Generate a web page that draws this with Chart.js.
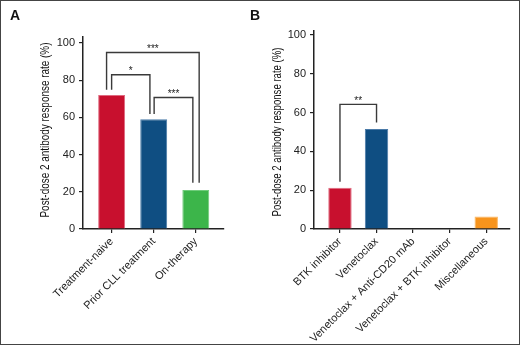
<!DOCTYPE html>
<html>
<head>
<meta charset="utf-8">
<script src="https://cdn.jsdelivr.net/npm/chart.js@4"></script>
<style>
  html, body { margin: 0; padding: 0; background: #fff; }
  #wrap { position: relative; width: 520px; height: 345px; overflow: hidden; }
  canvas { position: absolute; top: 0; }
  #frame { position: absolute; left: 0; top: 0; width: 518px; height: 343px; border: 1px solid #444; pointer-events: none; }
  .panel { position: absolute; top: 8px; font: bold 14px 'Liberation Sans', Arial, sans-serif; line-height: 14px; color: #111; }
</style>
</head>
<body>
<div id="wrap">
  <canvas id="chartA" width="260" height="345" style="left:0"></canvas>
  <canvas id="chartB" width="260" height="345" style="left:260px"></canvas>
  <div class="panel" style="left:10px">A</div>
  <div class="panel" style="left:250px">B</div>
  <div id="frame"></div>
</div>
<script>
// Data
const yTicks = [0, 20, 40, 60, 80, 100];
const yTitle = 'Post-dose 2 antibody response rate (%)';

const catsA = ['Treatment-naive', 'Prior CLL treatment', 'On-therapy'];
const ratesA = [72, 59, 21];
const colorsA = ['#c8102e', '#0f4e82', '#3cb54a'];
const edgesA = ['#e06a80', '#4a7aa8', '#6fcc7a'];
const bracketsA = [
    { x1: -0.12, x2: 2.08, top: 94.9, y1: 74.9, y2: 24.9, label: '***' },
    { x1: 0, x2: 0.91, top: 82.9, y1: 74.9, y2: 61.8, label: '*' },
    { x1: 1.01, x2: 1.93, top: 70.7, y1: 61.8, y2: 24.9, label: '***' }
];

const catsB = ['BTK inhibitor', 'Venetoclax', 'Venetoclax + Anti-CD20 mAb', 'Venetoclax + BTK inhibitor', 'Miscellaneous'];
const ratesB = [21.3, 51.5, 0, 0, 6.5];
const colorsB = ['#c8102e', '#0f4e82', '#3cb54a', '#3cb54a', '#f7941d'];
const edgesB = ['#e06a80', '#4a7aa8', '#6fcc7a', '#6fcc7a', '#fbb660'];
const bracketsB = [
    { x1: 0, x2: 1, top: 64.2, y1: 24.3, y2: 54.9, label: '**' }
];

const AXIS = '#222';
const SANS = "'Liberation Sans', Arial, sans-serif";

// Stars above the brackets
function starPlugin(brackets) {
    return {
        id: 'stars',
        afterDatasetsDraw(chart) {
            const { ctx, scales: { x, y } } = chart;
            ctx.save();
            ctx.font = '10px ' + SANS;
            ctx.fillStyle = AXIS;
            ctx.textAlign = 'center';
            ctx.textBaseline = 'alphabetic';
            brackets.forEach(b => {
                ctx.fillText(b.label, x.getPixelForValue((b.x1 + b.x2) / 2), y.getPixelForValue(b.top) - 0.5);
            });
            ctx.restore();
        }
    };
}

// Condensed y-axis title (no narrow font installed, so squeeze it)
function titlePlugin(cfg) {
    return {
        id: 'ytitle',
        afterDraw(chart) {
            const ctx = chart.ctx;
            ctx.save();
            ctx.translate(cfg.titleX, cfg.titleY);
            ctx.rotate(-Math.PI / 2);
            ctx.font = '13px ' + SANS;
            const w = ctx.measureText(yTitle).width;
            ctx.scale(cfg.titleLen / w, 1);
            ctx.fillStyle = '#111';
            ctx.textAlign = 'center';
            ctx.textBaseline = 'middle';
            ctx.fillText(yTitle, 0, 0);
            ctx.restore();
        }
    };
}

function makePanel(id, cats, values, colors, edges, brackets, cfg) {
    const lines = brackets.map(b => ({
        type: 'line',
        data: [{ x: b.x1, y: b.y1 }, { x: b.x1, y: b.top }, { x: b.x2, y: b.top }, { x: b.x2, y: b.y2 }],
        borderColor: '#3a3a3a',
        borderWidth: 1.4,
        pointRadius: 0,
        fill: false,
        tension: 0,
        order: 0
    }));

    new Chart(document.getElementById(id), {
        type: 'bar',
        data: {
            datasets: [{
                data: values.map((v, i) => ({ x: i, y: v })),
                backgroundColor: colors,
                borderColor: edges,
                borderWidth: 1,
                categoryPercentage: 1,
                barPercentage: cfg.barPct,
                order: 1
            }, ...lines]
        },
        options: {
            responsive: false,
            animation: false,
            events: [],
            layout: { padding: { left: cfg.padLeft, top: cfg.padTop, right: cfg.padRight, bottom: 0 } },
            plugins: { legend: { display: false }, tooltip: { enabled: false } },
            scales: {
                x: {
                    type: 'linear',
                    offset: false,
                    min: cfg.xMin,
                    max: cfg.xMax,
                    afterBuildTicks: s => { s.ticks = cats.map((c, i) => ({ value: i })); },
                    afterFit: s => { s.height = 116; },
                    ticks: {
                        autoSkip: false,
                        minRotation: 45,
                        maxRotation: 45,
                        padding: 2,
                        color: AXIS,
                        font: { family: SANS, size: 11 },
                        callback: v => cats[v]
                    },
                    grid: { offset: false, drawOnChartArea: false, drawTicks: true, tickLength: 4, color: AXIS, lineWidth: 1.2 },
                    border: { color: AXIS, width: 1.5 }
                },
                y: {
                    min: 0,
                    max: cfg.yMax,
                    afterBuildTicks: s => { s.ticks = yTicks.map(v => ({ value: v })); },
                    afterFit: s => { s.width = cfg.yWidth; },
                    ticks: { padding: 4, color: AXIS, font: { family: SANS, size: 11 } },
                    grid: { drawOnChartArea: false, drawTicks: true, tickLength: 4, color: AXIS, lineWidth: 1.2 },
                    border: { color: AXIS, width: 1.5 }
                }
            }
        },
        plugins: [starPlugin(brackets), titlePlugin(cfg)]
    });
}

makePanel('chartA', catsA, ratesA, colorsA, edgesA, bracketsA,
    { barPct: 0.64, xMin: -0.68, xMax: 2.67, yMax: 103.2, padLeft: 36, padTop: 37, padRight: 36, yWidth: 47,
      titleX: 45, titleY: 130, titleLen: 175 });
makePanel('chartB', catsB, ratesB, colorsB, edgesB, bracketsB,
    { barPct: 0.64, xMin: -0.71, xMax: 4.65, yMax: 102, padLeft: 9, padTop: 31, padRight: 10, yWidth: 45,
      titleX: 17, titleY: 132, titleLen: 169 });
</script>
</body>
</html>
